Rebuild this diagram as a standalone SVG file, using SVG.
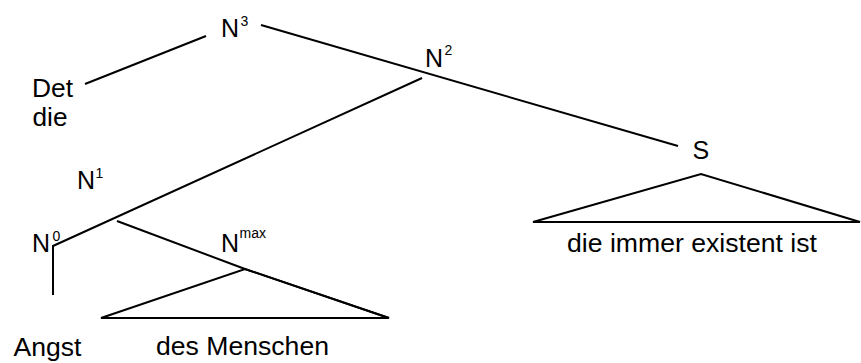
<svg xmlns="http://www.w3.org/2000/svg" width="861" height="363" viewBox="0 0 861 363">
<style>
text{font-family:"Liberation Sans",Arial,sans-serif;font-size:25px;fill:#000}
.sup{font-size:14px}
.ln{stroke:#000;stroke-width:2;fill:none;stroke-linejoin:miter}
</style>
<rect width="861" height="363" fill="#fff"/>
<g id="connectors">
<line class="ln" x1="85" y1="84" x2="206" y2="36"/>
<line class="ln" x1="261" y1="25" x2="678" y2="146"/>
<polyline class="ln" points="422,78 53,246 53,295"/>
<polyline class="ln" points="117,221 245,269 389,318"/>
</g>
<g id="node-N3"><text x="221" y="37">N</text><text class="sup" x="240.5" y="26">3</text></g>
<g id="node-Det"><text x="32" y="97" textLength="41" lengthAdjust="spacingAndGlyphs">Det</text><text x="32.5" y="126" textLength="35" lengthAdjust="spacingAndGlyphs">die</text></g>
<g id="node-N2"><text x="425" y="67">N</text><text class="sup" x="444.5" y="55">2</text></g>
<g id="node-N1"><text x="77" y="189">N</text><text class="sup" x="95.5" y="178">1</text></g>
<g id="node-N0"><text x="32" y="252">N</text><text class="sup" x="52.5" y="241">0</text></g>
<g id="node-Nmax"><text x="221" y="252">N</text><text class="sup" x="239.5" y="238">max</text></g>
<g id="node-S"><text x="692.5" y="159">S</text><polygon class="ln" points="533,222 701,174 860,222"/><text x="567" y="252" textLength="250" lengthAdjust="spacingAndGlyphs">die immer existent ist</text></g>
<g id="node-Nmax-tri"><polygon class="ln" points="101,318 245,269 389,318"/></g>
<g id="node-Angst"><text x="13.5" y="356" textLength="68" lengthAdjust="spacingAndGlyphs">Angst</text></g>
<g id="node-desMenschen"><text x="156" y="355" textLength="173" lengthAdjust="spacingAndGlyphs">des Menschen</text></g>
</svg>
